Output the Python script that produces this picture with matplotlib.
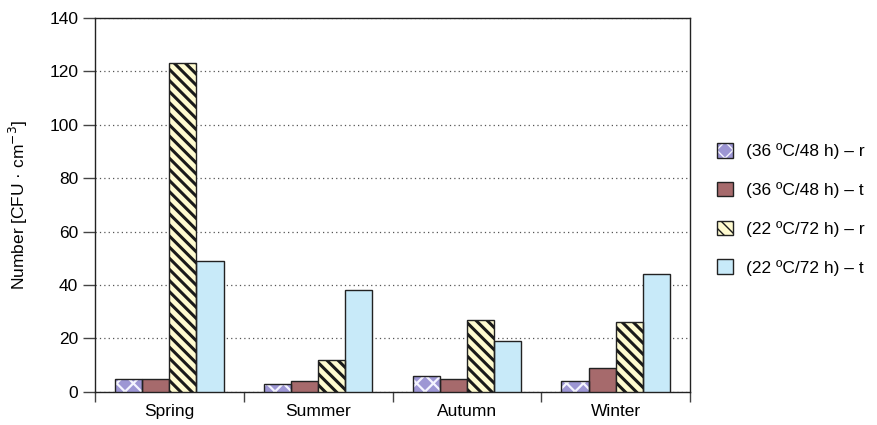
import numpy as np
import matplotlib.pyplot as plt

plt.rcParams['font.family'] = ['Liberation Sans', 'DejaVu Sans']

seasons = ['Spring', 'Summer', 'Autumn', 'Winter']
labels = ['(36 ºC/48 h) – r', '(36 ºC/48 h) – t', '(22 ºC/72 h) – r', '(22 ºC/72 h) – t']
r36 = [5, 3, 6, 4]
t36 = [5, 4, 5, 9]
r22 = [123, 12, 27, 26]
t22 = [49, 38, 19, 44]
series = [r36, t36, r22, t22]

faces = ['#9d96d4', '#a66a6c', '#fffbd0', '#c8eaf9']
hatches = ['xx', None, '\\\\\\', None]
hatch_cols = ['#f4f4ff', None, '#1a1a1a', None]
hatch_lw = [1.6, None, 2.2, None]
edge = '#222222'
fs = 12.5

fig = plt.figure(figsize=(8.77, 4.25), dpi=100)
ax = fig.add_axes([0.1083, 0.078, 0.6785, 0.8795])

x = np.arange(len(seasons))
w = 0.182
handles = []
for i, vals in enumerate(series):
    pos = x + (i - 1.5) * w
    if hatches[i]:
        # hatch drawn in its own colour, outline added on top
        with plt.rc_context({'hatch.linewidth': hatch_lw[i]}):
            hb = ax.bar(pos, vals, w, color=faces[i], edgecolor=hatch_cols[i],
                        hatch=hatches[i], linewidth=0, zorder=3)
        ob = ax.bar(pos, vals, w, fill=False, edgecolor=edge, linewidth=1.0, zorder=4)
        handles.append((hb, ob))
    else:
        b = ax.bar(pos, vals, w, color=faces[i], edgecolor=edge, linewidth=1.0, zorder=3)
        handles.append(b)

ax.set_xlim(-0.5, 3.5)
ax.set_ylim(0, 140)
ax.set_yticks(range(0, 141, 20))
ax.set_xticks(x)
ax.set_xticklabels(seasons, fontsize=fs)
ax.set_xticks([-0.5, 0.5, 1.5, 2.5, 3.5], minor=True)
ax.tick_params(axis='x', which='major', length=0, pad=9)
ax.tick_params(axis='x', which='minor', length=7, width=1, color='#444444')
ax.tick_params(axis='y', length=9, width=1, color='#444444', labelsize=fs, pad=3)
ax.yaxis.grid(True, linestyle=(0, (1, 2.5)), color='#555555', linewidth=0.9, zorder=0)
ax.set_axisbelow(True)
for s in ax.spines.values():
    s.set_color(edge)
    s.set_linewidth(1.0)

ax.set_ylabel('Number [CFU · cm$^{-3}$]', fontsize=fs, labelpad=14)

fig.legend(handles, labels, loc='upper left', bbox_to_anchor=(0.8, 0.7),
           frameon=False, fontsize=fs, handlelength=0.9, handleheight=0.9,
           handletextpad=0.75, labelspacing=1.3)

fig.savefig('out.png', dpi=100)
